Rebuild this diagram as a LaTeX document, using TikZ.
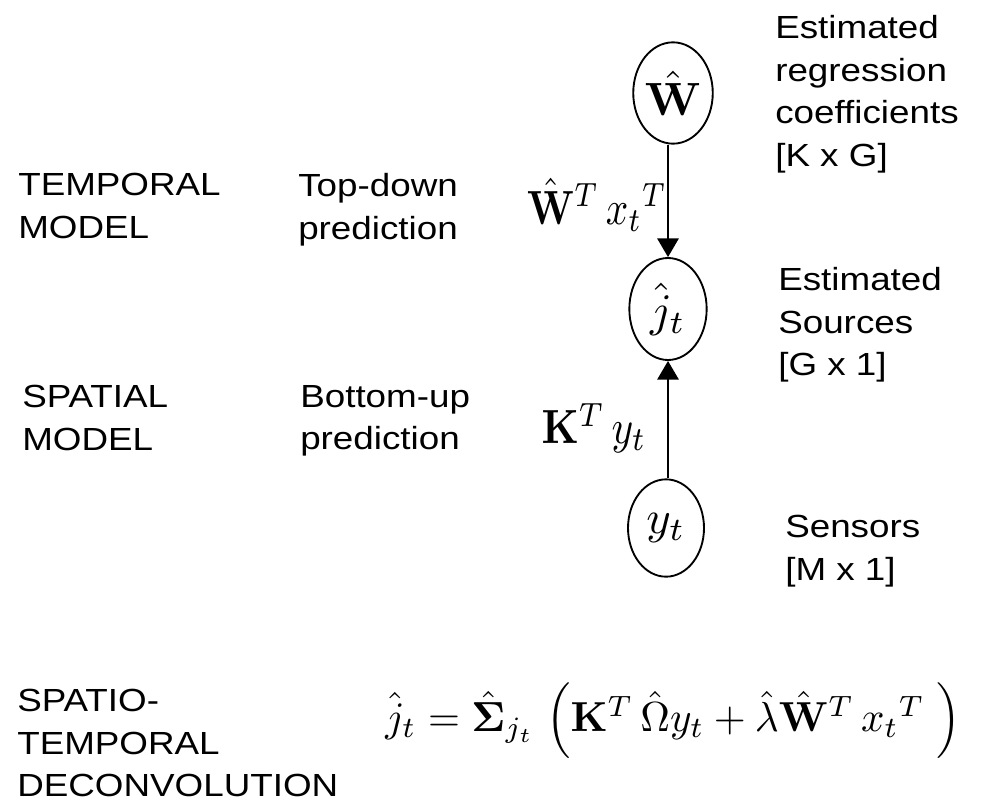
\documentclass[tikz,border=0pt]{standalone}
\usepackage{graphicx}
\usepackage[no-math]{fontspec}
\setmainfont[FakeStretch=1.15]{Liberation Sans}
\usetikzlibrary{shapes.geometric,arrows.meta}
\begin{document}
\begin{tikzpicture}[x=0.75pt,y=-0.75pt,
  lbl/.style={anchor=north west,inner sep=0pt,align=left,font=\fontsize{24}{32}\selectfont},
  var/.style={draw,ellipse,line width=1.4pt,inner sep=0pt},
  conn/.style={line width=1.4pt,-{Triangle[width=16pt,length=14pt]}},
  elab/.style={inner sep=0pt},
  eqn/.style={inner sep=0pt}]
\useasboundingbox (0,0) rectangle (984,807);

% left labels
\node[lbl] (tm) at (18,173) {TEMPORAL\\MODEL};
\node[lbl] (td) at (298,173) {Top-down\\prediction};
\node[lbl] (sm) at (22,385) {SPATIAL\\MODEL};
\node[lbl] (bu) at (300,385) {Bottom-up\\prediction};
\node[lbl] (st) at (17,689) {SPATIO-\\TEMPORAL\\DECONVOLUTION};

% right labels
\node[lbl] (erc) at (775,15) {Estimated\\regression\\coefficients\\{}[K x G]};
\node[lbl] (es) at (778,267) {Estimated\\Sources\\{}[G x 1]};
\node[lbl] (se) at (785,515) {Sensors\\{}[M x 1]};

% variable nodes
\node[var,minimum width=56pt,minimum height=76pt] (W) at (673,93) {\scalebox{3.5}{$\hat{\mathbf{W}}$}};
\node[var,minimum width=58pt,minimum height=76.5pt] (j) at (668,309) {\scalebox{3.5}{$\hat{j}_t$}};
\node[var,minimum width=57pt,minimum height=73pt] (y) at (666,528) {\scalebox{3.5}{$y_t$}};

% connectors
\draw[conn] (W.south -| j.north) -- (j.north);
\draw[conn] (y.north -| j.south) -- (j.south);

% connector labels
\node[elab] (wl) at (597,205) {\scalebox{2.95}[3.6]{$\hat{\mathbf{W}}^{T}\, x_t{}^{T}$}};
\node[elab] (kl) at (594,428) {\scalebox{3.1}[3.6]{$\mathbf{K}^{T}\, y_t$}};

% equation
\node[eqn] (eq) at (673,721) {\scalebox{3.08}[3.15]{$\hat{j}_t = \hat{\mathbf{\Sigma}}_{j_t}\;\Big(\mathbf{K}^{T}\,\hat{\Omega}y_t+\hat{\lambda}\hat{\mathbf{W}}^{T}\, x_t{}^{T}\;\Big)$}};
\end{tikzpicture}
\end{document}
